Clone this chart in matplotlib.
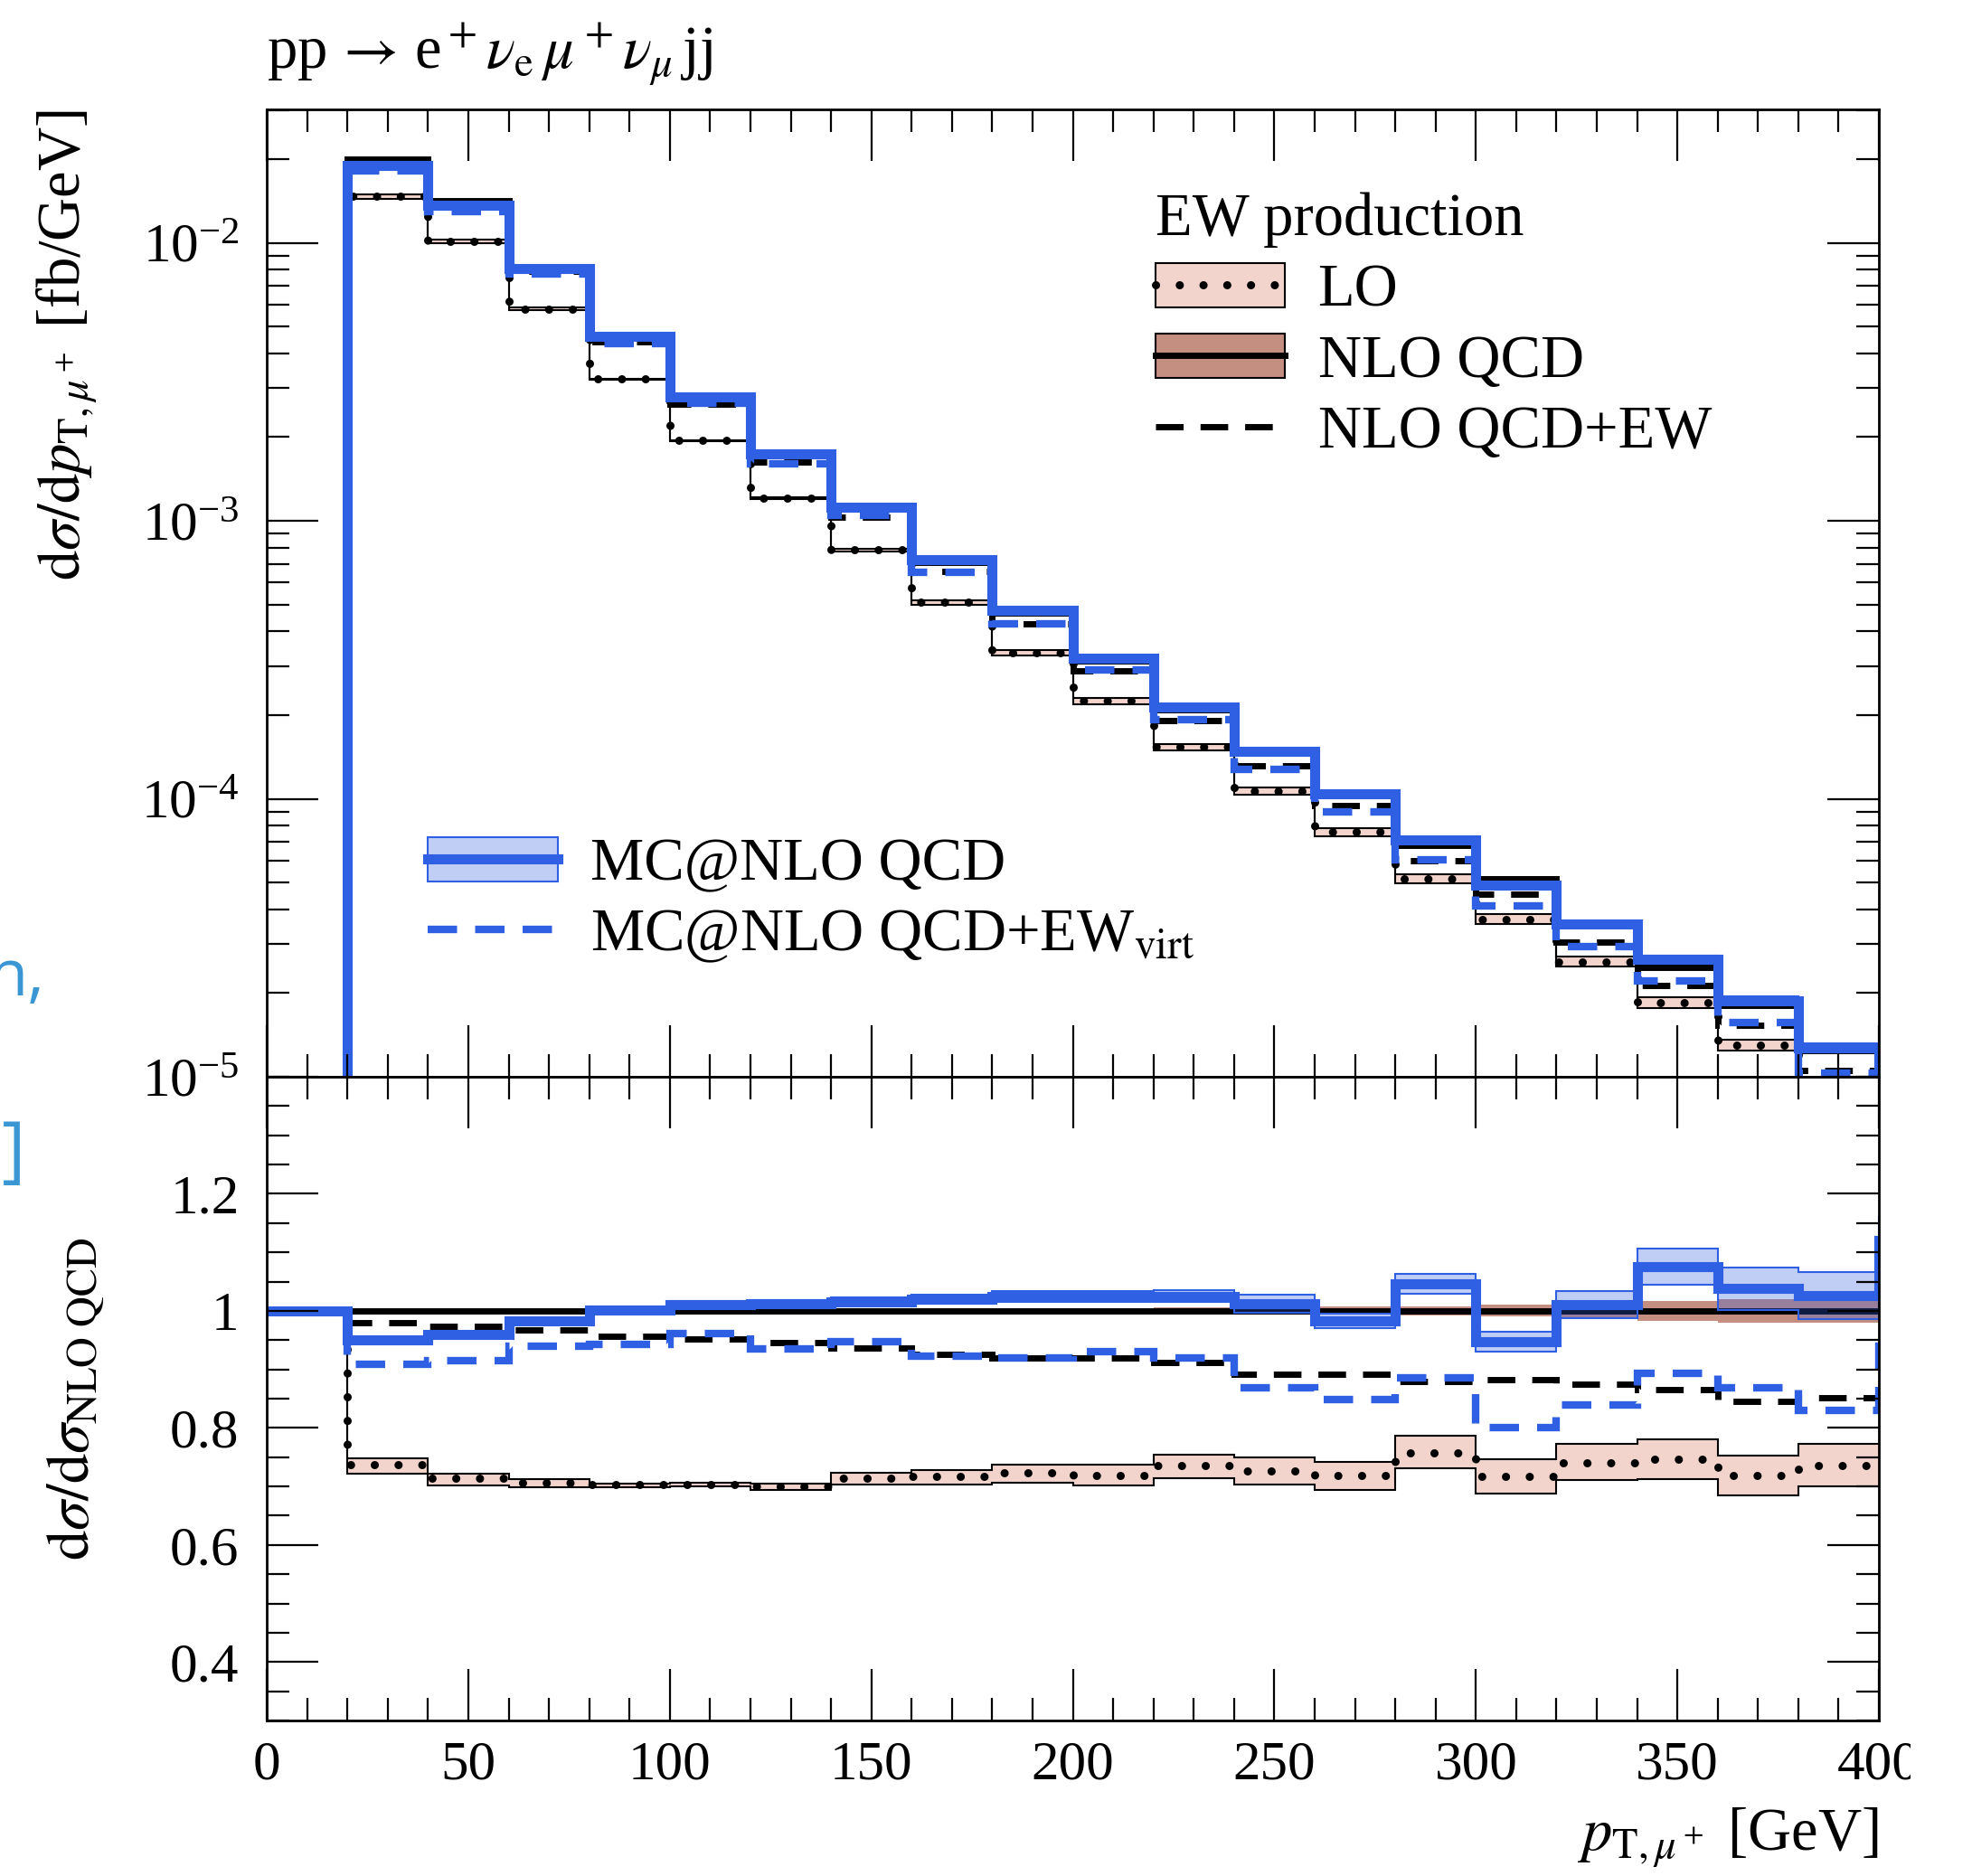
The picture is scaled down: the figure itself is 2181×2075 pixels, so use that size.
import numpy as np
import matplotlib
matplotlib.use("Agg")
import matplotlib.pyplot as plt
from matplotlib.patches import Patch
from matplotlib.lines import Line2D
from matplotlib.legend_handler import HandlerTuple
from matplotlib.ticker import (MultipleLocator, FixedLocator, LogLocator, NullFormatter,
                               FormatStrFormatter)
from matplotlib.transforms import Bbox, TransformedBbox

plt.rcParams['font.family'] = ['Liberation Serif', 'DejaVu Serif']
plt.rcParams['mathtext.fontset'] = 'stix'

# bin edges in GeV (last bin lies just outside the shown range)
edges = np.arange(0, 440, 20)

# NLO QCD reference, fb/GeV
nlo_qcd = np.array([0, 2.00e-2, 1.42e-2, 8.2e-3, 4.6e-3, 2.76e-3, 1.72e-3, 1.10e-3, 7.1e-4,
                    4.65e-4, 3.13e-4, 2.09e-4, 1.47e-4, 1.06e-4, 6.8e-5, 5.15e-5, 3.5e-5,
                    2.47e-5, 1.81e-5, 1.24e-5, 9.5e-6])
nlo_band = np.array([0, 0.003, 0.003, 0.003, 0.003, 0.004, 0.004, 0.004, 0.005, 0.005, 0.005,
                     0.006, 0.006, 0.007, 0.008, 0.010, 0.013, 0.017, 0.020, 0.020, 0.020])

# ratios to NLO QCD
nlo_ew = np.array([1, 0.980, 0.974, 0.967, 0.956, 0.952, 0.946, 0.937, 0.926, 0.919, 0.920,
                   0.912, 0.892, 0.891, 0.880, 0.883, 0.874, 0.865, 0.846, 0.851, 0.850])
lo = np.array([1, 0.737, 0.714, 0.706, 0.703, 0.704, 0.700, 0.714, 0.717, 0.723, 0.719,
               0.735, 0.726, 0.718, 0.758, 0.717, 0.741, 0.746, 0.718, 0.736, 0.736])
lo_low = np.array([1, 0.722, 0.702, 0.699, 0.699, 0.700, 0.694, 0.704, 0.704, 0.706, 0.701,
                   0.714, 0.704, 0.694, 0.731, 0.688, 0.711, 0.713, 0.685, 0.700, 0.700])
lo_high = np.array([1, 0.748, 0.722, 0.712, 0.705, 0.706, 0.705, 0.723, 0.728, 0.737, 0.737,
                    0.755, 0.750, 0.742, 0.786, 0.746, 0.773, 0.781, 0.753, 0.773, 0.773])
mc_qcd = np.array([1, 0.951, 0.960, 0.983, 1.002, 1.011, 1.012, 1.016, 1.020, 1.025, 1.025,
                   1.025, 1.012, 0.983, 1.046, 0.947, 1.011, 1.076, 1.038, 1.026, 1.120])
mc_band = np.array([0, 0.004, 0.004, 0.005, 0.005, 0.006, 0.006, 0.007, 0.008, 0.009, 0.009,
                    0.010, 0.015, 0.012, 0.017, 0.017, 0.023, 0.031, 0.036, 0.040, 0.040])
mc_ew = np.array([1, 0.908, 0.915, 0.939, 0.942, 0.961, 0.935, 0.948, 0.922, 0.919, 0.930,
                  0.920, 0.868, 0.848, 0.885, 0.800, 0.839, 0.894, 0.868, 0.830, 0.940])

ratio_ticks = [0.4, 0.6, 0.8, 1.0, 1.2]

pink = '#f2d4cc'
brown = '#c48e80'
blue = '#2f5fe3'
lightblue = (47/255, 95/255, 227/255, 0.3)
dots = (0, (0.01, 2.9))

fig = plt.figure(figsize=(21.81, 20.75), dpi=100)
ax1 = fig.add_axes([0.1353, 0.4260, 0.8175, 0.5157])
ax2 = fig.add_axes([0.1353, 0.0829, 0.8175, 0.3431], sharex=ax1)


def draw(ax, ref):
    ax.stairs(ref * lo_high, edges, baseline=ref * lo_low, fill=True, color=pink, lw=0)
    ax.stairs(ref * lo_high, edges, baseline=None, color='k', lw=1.5)
    ax.stairs(ref * lo_low, edges, baseline=None, color='k', lw=1.5)
    ax.stairs(ref * lo, edges, baseline=None, color='k', lw=6.5, ls=dots, capstyle='round')
    ax.stairs(ref * (1 + nlo_band), edges, baseline=ref * (1 - nlo_band), fill=True,
              color=brown, lw=0)
    ax.stairs(ref * 1.0, edges, baseline=None, color='k', lw=5)
    ax.stairs(ref * nlo_ew, edges, baseline=None, color='k', lw=5, ls=(0, (4.4, 2.7)))
    ax.stairs(ref * (mc_qcd + mc_band), edges, baseline=ref * (mc_qcd - mc_band), fill=True,
              facecolor=lightblue, edgecolor=blue, lw=1.5)
    ax.stairs(ref * mc_ew, edges, baseline=None, color=blue, lw=6, ls=(0, (3.9, 2.4)))
    ax.stairs(ref * mc_qcd, edges, baseline=None, color=blue, lw=8)


draw(ax1, nlo_qcd)
draw(ax2, np.ones_like(nlo_qcd))

ax1.set_yscale('log')
ax1.set_ylim(1e-5, 10 ** -1.52)
ax1.set_xlim(0, 400)
ax1.yaxis.set_major_locator(LogLocator(base=10))
ax1.yaxis.set_minor_locator(LogLocator(base=10, subs=np.arange(2, 10)))
ax1.yaxis.set_minor_formatter(NullFormatter())
ax2.set_ylim(0.3, 1.4)
ax2.yaxis.set_major_locator(FixedLocator(ratio_ticks))
ax2.yaxis.set_minor_locator(MultipleLocator(0.05))
ax2.yaxis.set_major_formatter(FormatStrFormatter('%g'))
ax2.xaxis.set_major_locator(MultipleLocator(50))
ax2.xaxis.set_minor_locator(MultipleLocator(10))

for ax in (ax1, ax2):
    ax.tick_params(which='major', direction='in', length=41, width=1.6, top=True, right=True,
                   labelsize=44, pad=22)
    ax.tick_params(which='minor', direction='in', length=18, width=1.6, top=True, right=True)
    ax.tick_params(axis='x', pad=16)
    for s in ax.spines.values():
        s.set_linewidth(2)
ax1.tick_params(labelbottom=False)

ax1.set_ylabel(r'$\mathrm{d}\sigma/\mathrm{d}p_{\mathrm{T},\mu^+}$ [fb/GeV]', fontsize=48,
               loc='top')
ax1.yaxis.set_label_coords(-0.104, 1.0)
ax2.set_ylabel(r'$\mathrm{d}\sigma/\mathrm{d}\sigma_{\mathrm{NLO\ QCD}}$', fontsize=48)
ax2.yaxis.set_label_coords(-0.100, 0.5)
ax2.set_xlabel(r'$p_{\mathrm{T},\mu^+}$ [GeV]', fontsize=48, loc='right', labelpad=12)
ax1.set_title(r'pp$\,\rightarrow\,$e$^+\nu_\mathrm{e}\,\mu^+\nu_\mu\,$jj', loc='left',
              fontsize=48, pad=32)

h_lo = (Patch(facecolor=pink, edgecolor='k', lw=1.5),
        Line2D([], [], color='k', lw=6.5, ls=dots, dash_capstyle='round'))
h_nlo = (Patch(facecolor=brown, edgecolor='k', lw=1.5), Line2D([], [], color='k', lw=5))
h_nloew = Line2D([], [], color='k', lw=5, ls=(0, (4.4, 2.7)))
leg1 = ax1.legend([h_lo, h_nlo, h_nloew], ['LO', 'NLO QCD', 'NLO QCD+EW'],
                  title='EW production', alignment='left', loc='upper left',
                  bbox_to_anchor=(0.551, 0.914), frameon=False, fontsize=48, title_fontsize=48,
                  handlelength=2.15, handleheight=0.75, handletextpad=0.55, labelspacing=0.25,
                  borderpad=0, borderaxespad=0,
                  handler_map={tuple: HandlerTuple(ndivide=1)})
ax1.add_artist(leg1)

h_mc = (Patch(facecolor=lightblue, edgecolor=blue, lw=1.5), Line2D([], [], color=blue, lw=8))
h_mcew = Line2D([], [], color=blue, lw=6, ls=(0, (3.9, 2.4)))
ax1.legend([h_mc, h_mcew], ['MC@NLO QCD', r'MC@NLO QCD+EW$_{\mathrm{virt}}$'],
           loc='upper left', bbox_to_anchor=(0.10, 0.248), frameon=False, fontsize=48,
           handlelength=2.15, handleheight=0.75, handletextpad=0.55, labelspacing=0.25,
           borderpad=0, borderaxespad=0, handler_map={tuple: HandlerTuple(ndivide=1)})

# leftovers of the slide the chart was cut from
fig.text(36 / 1568, 1 - 778 / 1492, 'n,', ha='right', va='center', color='#3a97d4',
         fontsize=52, family='Open Sans')
fig.text(20 / 1568, 1 - 918 / 1492, ']', ha='right', va='center', color='#3a97d4',
         fontsize=58, family='Open Sans')

# last x tick label is cut by the right edge of the crop
fig.canvas.draw()
clip = TransformedBbox(Bbox([[0, 0], [2113 / 2181, 1]]), fig.transFigure)
for t in ax2.xaxis.get_major_ticks():
    if abs(t.get_loc() - 400) < 1e-6:
        t.label1.set_clip_box(clip)
        t.label1.set_clip_on(True)

fig.savefig('out.png', dpi=100)
